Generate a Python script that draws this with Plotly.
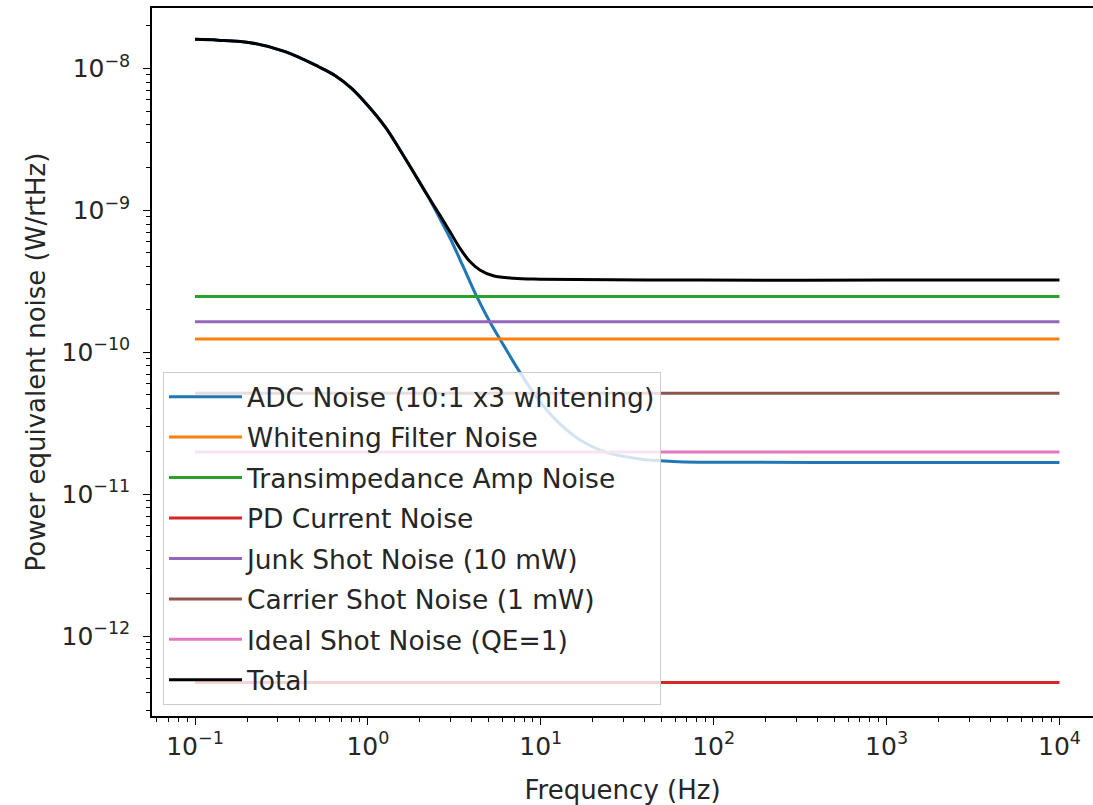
import plotly.graph_objects as go

# ---- data ----
freq_adc = [0.1, 0.136, 0.213, 0.332, 0.516, 0.645, 0.805, 1.005, 1.256, 1.534, 1.830,
            2.188, 2.612, 2.985, 3.565, 4.26, 5.08, 5.80, 7.58, 9.89, 12.9, 16.9, 24.0,
            37.5, 58.4, 83.3, 1000, 10000]
adc_noise = [1.60e-8, 1.58e-8, 1.51e-8, 1.31e-8, 1.03e-8, 8.91e-9, 7.23e-9, 5.43e-9,
             3.88e-9, 2.66e-9, 1.87e-9, 1.30e-9, 8.71e-10, 6.38e-10, 3.99e-10, 2.47e-10,
             1.63e-10, 1.24e-10, 7.21e-11, 4.49e-11, 3.13e-11, 2.41e-11, 1.97e-11,
             1.77e-11, 1.70e-11, 1.68e-11, 1.67e-11, 1.67e-11]

freq_total = [0.1, 0.136, 0.213, 0.332, 0.516, 0.645, 0.805, 1.005, 1.256, 1.534, 1.830,
              2.188, 2.612, 2.985, 3.41, 3.89, 4.44, 5.31, 6.93, 9.89, 83.3, 1000, 10000]
total_noise = [1.60e-8, 1.58e-8, 1.51e-8, 1.31e-8, 1.03e-8, 8.91e-9, 7.23e-9, 5.43e-9,
               3.88e-9, 2.66e-9, 1.87e-9, 1.30e-9, 9.20e-10, 7.06e-10, 5.40e-10,
               4.35e-10, 3.80e-10, 3.46e-10, 3.32e-10, 3.27e-10, 3.22e-10, 3.22e-10,
               3.22e-10]

freq_flat = [0.1, 10000]
whitening_noise = [1.24e-10, 1.24e-10]
tia_noise = [2.47e-10, 2.47e-10]
pd_current_noise = [4.71e-13, 4.71e-13]
junk_shot_noise = [1.64e-10, 1.64e-10]
carrier_shot_noise = [5.14e-11, 5.14e-11]
ideal_shot_noise = [1.98e-11, 1.98e-11]

names = ["ADC Noise (10:1 x3 whitening)", "Whitening Filter Noise",
         "Transimpedance Amp Noise", "PD Current Noise", "Junk Shot Noise (10 mW)",
         "Carrier Shot Noise (1 mW)", "Ideal Shot Noise (QE=1)", "Total"]
colors = ["#1f77b4", "#ff7f0e", "#2ca02c", "#d62728", "#9467bd", "#8c564b",
          "#e377c2", "#000000"]

x_tick_vals = [0.1, 1, 10, 100, 1000, 10000]
x_tick_text = ["10<sup>−1</sup>", "10<sup>0</sup>", "10<sup>1</sup>", "10<sup>2</sup>",
               "10<sup>3</sup>", "10<sup>4</sup>"]
y_tick_vals = [1e-12, 1e-11, 1e-10, 1e-9, 1e-8]
y_tick_text = ["10<sup>−12</sup>", "10<sup>−11</sup>", "10<sup>−10</sup>",
               "10<sup>−9</sup>", "10<sup>−8</sup>"]

series = [
    (freq_adc, adc_noise, "spline"),
    (freq_flat, whitening_noise, "linear"),
    (freq_flat, tia_noise, "linear"),
    (freq_flat, pd_current_noise, "linear"),
    (freq_flat, junk_shot_noise, "linear"),
    (freq_flat, carrier_shot_noise, "linear"),
    (freq_flat, ideal_shot_noise, "linear"),
    (freq_total, total_noise, "spline"),
]

fig = go.Figure()
for i, ((xs, ys, shape), name, col) in enumerate(zip(series, names, colors)):
    line = dict(color=col, width=3, shape=shape)
    if shape == "spline":
        line["smoothing"] = 1.0
    fig.add_trace(go.Scatter(x=xs, y=ys, mode="lines", name=name, line=line,
                             legendgroup=f"g{i}"))

def minor_vals(lo, hi):
    out = []
    for e in range(lo, hi + 1):
        for m in range(2, 10):
            out.append(m * 10.0 ** e)
    return out

font = "DejaVu Sans, Arial, sans-serif"
txt = "#262626"
fig.update_layout(
    width=1093, height=805,
    margin=dict(l=152, r=0, t=8, b=89, pad=0),
    paper_bgcolor="white", plot_bgcolor="white",
    font=dict(family=font, size=26, color=txt),
    showlegend=True,
    legend=dict(x=0.0117, y=0.486, xanchor="left", yanchor="top",
                bgcolor="rgba(255,255,255,0.8)", bordercolor="#cccccc", borderwidth=1,
                font=dict(family=font, size=26.5, color=txt),
                tracegroupgap=3, itemwidth=73),
)
fig.update_xaxes(type="log", range=[-1.2487, 4.194], showgrid=False, zeroline=False,
                 showline=True, linecolor="black", linewidth=1.5, mirror=True,
                 ticks="outside", ticklen=7, tickwidth=1.2, tickcolor="black",
                 tickmode="array", tickvals=x_tick_vals, ticktext=x_tick_text,
                 tickfont=dict(size=25, color=txt),
                 minor=dict(ticks="outside", ticklen=4, tickwidth=1, tickcolor="black",
                            tickmode="array", tickvals=minor_vals(-2, 4), showgrid=False),
                 title=dict(text="Frequency (Hz)", font=dict(size=26, color=txt),
                            standoff=26))
fig.update_yaxes(type="log", range=[-12.563, -7.575], showgrid=False, zeroline=False,
                 showline=True, linecolor="black", linewidth=1.5, mirror=False,
                 ticks="outside", ticklen=7, tickwidth=1.2, tickcolor="black",
                 tickmode="array", tickvals=y_tick_vals, ticktext=y_tick_text,
                 tickfont=dict(size=25, color=txt), ticklabelstandoff=8,
                 minor=dict(ticks="outside", ticklen=4, tickwidth=1, tickcolor="black",
                            tickmode="array", tickvals=minor_vals(-13, -8), showgrid=False),
                 title=dict(text="Power equivalent noise (W/rtHz)",
                            font=dict(size=26, color=txt), standoff=8))

fig.write_html("out.html", config={"displayModeBar": False},
               post_script="document.body.style.margin='0px';document.body.style.padding='0px';")
